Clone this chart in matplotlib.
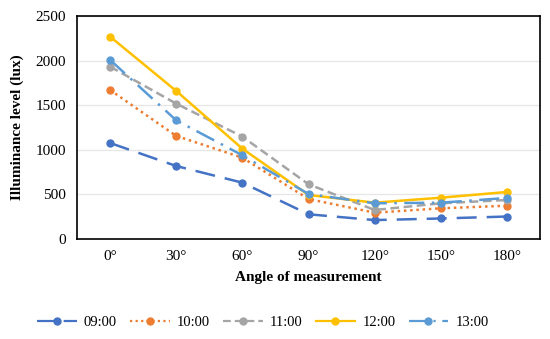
import matplotlib
matplotlib.use("Agg")
import matplotlib.pyplot as plt

angles = ["0°", "30°", "60°", "90°", "120°", "150°", "180°"]
series_names = ["09:00", "10:00", "11:00", "12:00", "13:00"]
v0900 = [1076, 818, 631, 277, 212, 230, 252]
v1000 = [1670, 1155, 911, 448, 295, 344, 373]
v1100 = [1932, 1517, 1147, 613, 325, 400, 437]
v1200 = [2268, 1659, 1012, 493, 407, 463, 527]
v1300 = [2007, 1330, 938, 504, 400, 407, 460]
values = [v0900, v1000, v1100, v1200, v1300]

colors = ["#4472C4", "#ED7D31", "#A5A5A5", "#FFC000", "#5B9BD5"]
styles = [(0, (8, 4)), (0, (1, 1.5)), (0, (3.5, 1.8)), "-", (0, (8, 3, 1, 3))]

plt.rcParams['font.family'] = ['Liberation Serif', 'DejaVu Serif']

fig = plt.figure(figsize=(5.5, 3.39), dpi=100)
ax = fig.add_axes([0.14, 0.295, 0.842, 0.658])

x = list(range(len(angles)))
for name, vals, c, ls in zip(series_names, values, colors, styles):
    ax.plot(x, vals, color=c, linestyle=ls, linewidth=1.8, marker='o',
            markersize=5, label=name)

ax.set_xlim(-0.5, len(angles) - 0.5)
ax.set_ylim(0, 2500)
ax.set_yticks([0, 500, 1000, 1500, 2000, 2500])
ax.set_xticks(x)
ax.set_xticklabels(angles)
ax.tick_params(axis='both', length=0, labelsize=11, pad=8)
ax.yaxis.grid(True, color='#E6E6E6', linewidth=0.9)
ax.set_axisbelow(True)
for s in ax.spines.values():
    s.set_color('black')
    s.set_linewidth(1.2)

ax.set_xlabel("Angle of measurement", fontsize=11, fontweight='bold', labelpad=6)
ax.set_ylabel("Illuminance level (lux)", fontsize=11, fontweight='bold', labelpad=8)

leg = fig.legend(loc='center', bbox_to_anchor=(0.478, 0.05), ncol=5, frameon=False,
                 fontsize=10.5, handlelength=2.7, columnspacing=0.9, handletextpad=0.5)
for line in leg.get_lines():
    line.set_linewidth(1.6)

fig.savefig("out.png", dpi=100)
